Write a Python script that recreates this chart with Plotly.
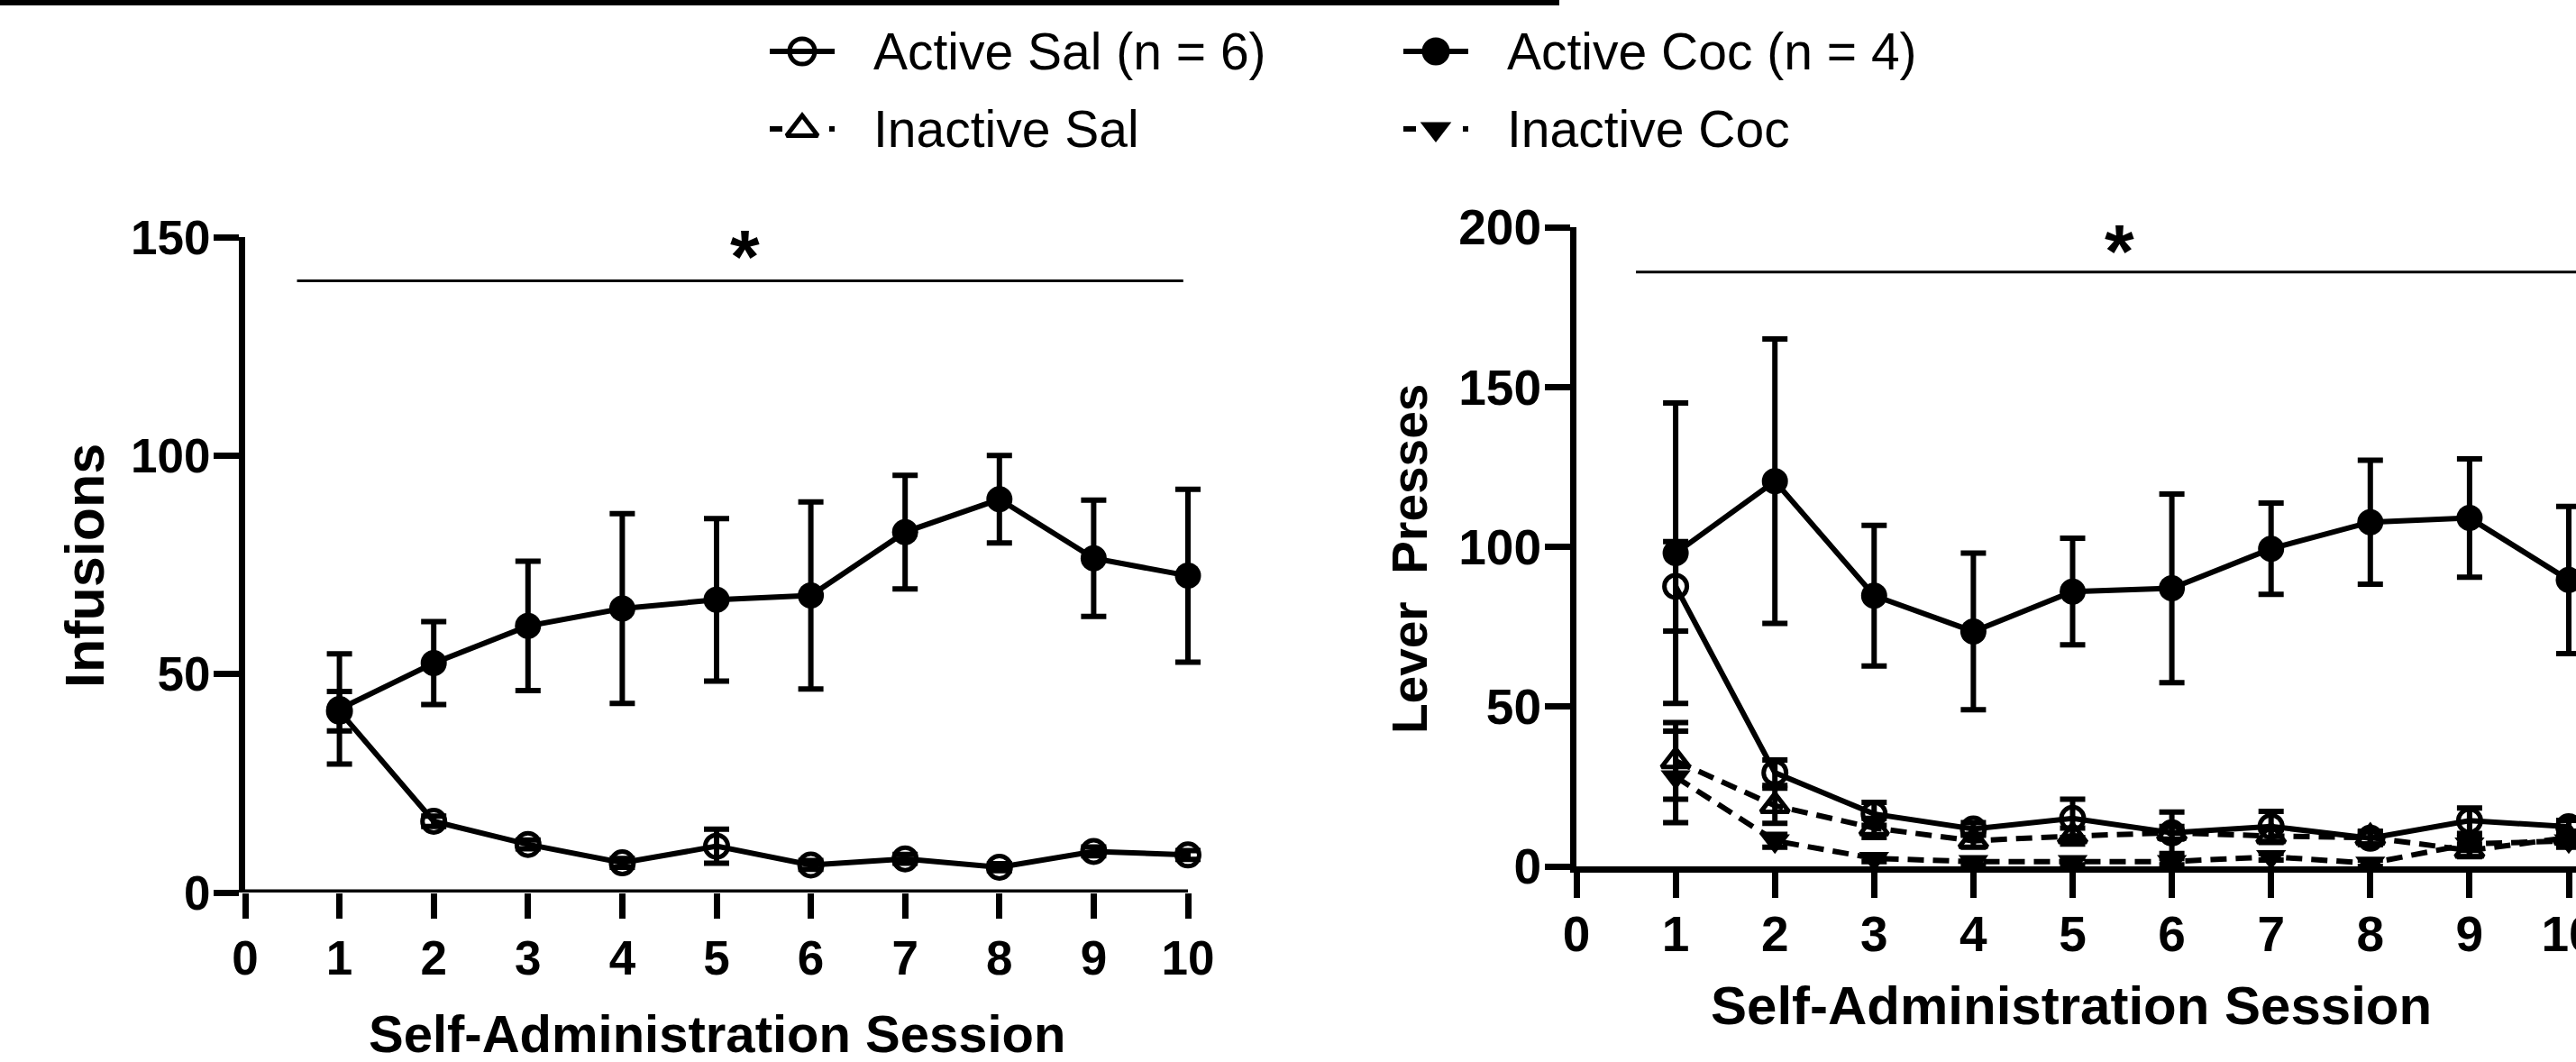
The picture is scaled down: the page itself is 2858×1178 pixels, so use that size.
import plotly.graph_objects as go

# ---------------- data ----------------
sessions = [1, 2, 3, 4, 5, 6, 7, 8, 9, 10]
x_tick_vals = [0, 1, 2, 3, 4, 5, 6, 7, 8, 9, 10]
inf_y_ticks = [0, 50, 100, 150]
lp_y_ticks = [0, 50, 100, 150, 200]

series_names = ["Active Sal (n = 6)", "Inactive Sal", "Active Coc (n = 4)", "Inactive Coc"]

# Panel A: infusions
inf_active_sal = [41.5, 16.3, 11.0, 6.8, 10.6, 6.3, 7.7, 5.8, 9.4, 8.6]
inf_active_sal_sem = [4.5, 1.2, 1.0, 1.0, 3.9, 1.0, 1.0, 0.8, 1.0, 1.0]
inf_active_coc = [42.0, 52.5, 61.0, 65.0, 67.0, 68.0, 82.5, 90.0, 76.5, 72.5]
inf_active_coc_sem = [12.6, 9.5, 14.8, 21.7, 18.6, 21.4, 13.0, 10.0, 13.3, 19.8]

# Panel B: lever presses
lp_active_sal = [87.6, 29.3, 16.4, 11.7, 15.0, 10.5, 12.5, 8.8, 14.3, 12.4]
lp_active_sal_sem = [14.0, 4.0, 3.6, 2.0, 6.0, 6.5, 4.7, 2.0, 4.0, 2.0]
lp_inactive_sal = [33.0, 19.0, 12.0, 8.0, 9.5, 10.5, 9.5, 9.0, 5.0, 9.0]
lp_inactive_sal_sem = [12.0, 5.5, 3.0, 2.0, 2.5, 2.0, 2.0, 2.0, 2.0, 2.0]
lp_active_coc = [98.0, 120.5, 84.7, 73.5, 86.0, 87.0, 99.4, 107.7, 109.0, 89.6]
lp_active_coc_sem = [47.0, 44.5, 22.0, 24.5, 16.7, 29.5, 14.3, 19.4, 18.5, 23.0]
lp_inactive_coc = [28.0, 8.0, 2.5, 1.5, 1.5, 1.5, 3.0, 1.0, 7.0, 8.0]
lp_inactive_coc_sem = [14.3, 2.0, 1.0, 1.0, 1.0, 1.0, 1.0, 1.0, 2.0, 2.0]

# ---------------- styling ----------------
W, H = 2858, 1178
FONT = "Liberation Sans, Arial, sans-serif"
BLACK = "black"
LW = 6
AXW = 7
DASH = "18px,10px"

STYLE = {
    "Active Sal (n = 6)": dict(symbol="circle-open", size=25, mlw=5, dash="solid", leg=28),
    "Inactive Sal": dict(symbol="triangle-up-open", size=27, mlw=5, dash=DASH, leg=30),
    "Active Coc (n = 4)": dict(symbol="circle", size=29, mlw=0, dash="solid", leg=31),
    "Inactive Coc": dict(symbol="triangle-down", size=29, mlw=0, dash=DASH, leg=30),
}


def px_x(p):
    return p / W


def px_y(p):
    return (H - p) / H


fig = go.Figure()


def add_series(name, y, sem, xa, ya):
    st = STYLE[name]
    fig.add_trace(go.Scatter(
        x=sessions, y=y, name=name, xaxis=xa, yaxis=ya,
        mode="lines+markers", cliponaxis=False, showlegend=False,
        line=dict(color=BLACK, width=LW, dash=st["dash"]),
        marker=dict(symbol=st["symbol"], size=st["size"], color=BLACK,
                    line=dict(color=BLACK, width=st["mlw"])),
        error_y=dict(type="data", array=sem, visible=True, color=BLACK,
                     thickness=6, width=14),
    ))


# left x-axis baseline drawn along y = 0 from first to last tick
fig.add_trace(go.Scatter(
    x=[x_tick_vals[0], x_tick_vals[-1]], y=[0, 0], xaxis="x", yaxis="y",
    mode="lines", cliponaxis=False, showlegend=False, hoverinfo="skip",
    line=dict(color=BLACK, width=AXW)))

# Panel A
add_series("Active Sal (n = 6)", inf_active_sal, inf_active_sal_sem, "x", "y")
add_series("Active Coc (n = 4)", inf_active_coc, inf_active_coc_sem, "x", "y")
# Panel B
add_series("Inactive Coc", lp_inactive_coc, lp_inactive_coc_sem, "x2", "y2")
add_series("Inactive Sal", lp_inactive_sal, lp_inactive_sal_sem, "x2", "y2")
add_series("Active Sal (n = 6)", lp_active_sal, lp_active_sal_sem, "x2", "y2")
add_series("Active Coc (n = 4)", lp_active_coc, lp_active_coc_sem, "x2", "y2")

# ---------------- custom legend (aux pixel axes) ----------------
LEG_LINE_X = {"Active Sal (n = 6)": 854, "Inactive Sal": 854,
              "Active Coc (n = 4)": 1557, "Inactive Coc": 1557}
LEG_ROW_Y = {"Active Sal (n = 6)": 57, "Inactive Sal": 143,
             "Active Coc (n = 4)": 57, "Inactive Coc": 143}
LEG_LEN = 72
LEG_TEXT_GAP = 113

annotations = []
for name in series_names:
    st = STYLE[name]
    x0 = LEG_LINE_X[name]
    yy = LEG_ROW_Y[name]
    dash = "solid" if st["dash"] == "solid" else "14px,52px,6px"
    fig.add_trace(go.Scatter(
        x=[x0, x0 + LEG_LEN], y=[yy, yy], xaxis="x3", yaxis="y3",
        mode="lines", cliponaxis=False, showlegend=False, hoverinfo="skip",
        line=dict(color=BLACK, width=LW, dash=dash)))
    fig.add_trace(go.Scatter(
        x=[x0 + LEG_LEN / 2], y=[yy], xaxis="x3", yaxis="y3",
        mode="markers", cliponaxis=False, showlegend=False, hoverinfo="skip",
        marker=dict(symbol=st["symbol"], size=st["leg"], color=BLACK,
                    line=dict(color=BLACK, width=st["mlw"]))))
    annotations.append(dict(
        x=x0 + LEG_TEXT_GAP, y=yy, xref="x3", yref="y3", text=name,
        showarrow=False, xanchor="left", yanchor="middle",
        font=dict(family=FONT, size=57, color=BLACK)))

# ---------------- axes ----------------
tickfont_a = dict(family=FONT, size=53, color=BLACK, weight="bold")
tickfont_b = dict(family=FONT, size=55, color=BLACK, weight="bold")
axis_common = dict(linecolor=BLACK, linewidth=AXW, ticks="outside",
                   ticklen=28, tickwidth=AXW, tickcolor=BLACK, showgrid=False,
                   zeroline=False, fixedrange=True, automargin=False)

A_X0, A_XU, A_XMAX = 272, 104.6, 10.25
A_Y0, A_Y150 = 990, 263
B_X0, B_XU = 1749, 110.1
B_Y0, B_Y200 = 961, 252

layout = dict(
    width=W, height=H, autosize=False, template="none",
    margin=dict(l=0, r=0, t=0, b=0, pad=0, autoexpand=False),
    paper_bgcolor="white", plot_bgcolor="rgba(0,0,0,0)",
    showlegend=False, hovermode=False,
    xaxis=dict(domain=[px_x(A_X0), px_x(A_X0 + A_XMAX * A_XU)], range=[0, A_XMAX],
               tickvals=x_tick_vals, anchor="y", showline=False, tickfont=tickfont_a,
               **axis_common),
    yaxis=dict(domain=[px_y(A_Y0), px_y(A_Y150)], range=[0, 150], tickvals=inf_y_ticks,
               anchor="x", showline=True, tickfont=tickfont_a, **axis_common),
    xaxis2=dict(domain=[px_x(B_X0), 1.0], range=[0, (W - B_X0) / B_XU], tickvals=x_tick_vals,
                anchor="y2", showline=True, tickfont=tickfont_b, ticklabeloverflow="allow",
                **axis_common),
    yaxis2=dict(domain=[px_y(B_Y0), px_y(B_Y200)], range=[0, 200], tickvals=lp_y_ticks,
                anchor="x2", showline=True, tickfont=tickfont_b, **axis_common),
    xaxis3=dict(domain=[0, 1], range=[0, W], visible=False, anchor="y3",
                fixedrange=True, automargin=False),
    yaxis3=dict(domain=[0, 1], range=[H, 0], visible=False, anchor="x3",
                fixedrange=True, automargin=False),
)
fig.update_layout(**layout)

try:
    fig.update_layout(yaxis_ticklabelstandoff=-7, yaxis2_ticklabelstandoff=-7,
                      xaxis_ticklabelstandoff=-2, xaxis2_ticklabelstandoff=-7)
except Exception:
    pass

title_font_a = dict(family=FONT, size=58, color=BLACK, weight="bold")
title_font_b = dict(family=FONT, size=60, color=BLACK, weight="bold")
ytitle_font_a = dict(family=FONT, size=61, color=BLACK, weight="bold")
ytitle_font_b = dict(family=FONT, size=55, color=BLACK, weight="bold")
star_font = dict(family=FONT, size=84, color=BLACK, weight="bold")

annotations += [
    dict(x=795, y=1146, xref="x3", yref="y3", text="Self-Administration Session",
         showarrow=False, xanchor="center", yanchor="middle", font=title_font_a),
    dict(x=2298, y=1115, xref="x3", yref="y3", text="Self-Administration Session",
         showarrow=False, xanchor="center", yanchor="middle", font=title_font_b),
    dict(x=94, y=628, xref="x3", yref="y3", text="Infusions", textangle=-90,
         showarrow=False, xanchor="center", yanchor="middle", font=ytitle_font_a),
    dict(x=1564, y=620, xref="x3", yref="y3", text="Lever\u00a0\u00a0Presses", textangle=-90,
         showarrow=False, xanchor="center", yanchor="middle", font=ytitle_font_b),
    dict(x=5.3, y=145.5, xref="x", yref="y", text="*", showarrow=False,
         xanchor="center", yanchor="middle", font=star_font),
    dict(x=5.47, y=192.5, xref="x2", yref="y2", text="*", showarrow=False,
         xanchor="center", yanchor="middle", font=star_font),
]

shapes = [
    dict(type="line", xref="x", yref="y", x0=0.55, x1=9.95, y0=140, y1=140,
         line=dict(color=BLACK, width=3)),
    dict(type="line", xref="x2", yref="y2", x0=0.6, x1=(W - B_X0) / B_XU, y0=186, y1=186,
         line=dict(color=BLACK, width=3)),
    dict(type="rect", xref="x3", yref="y3", x0=0, x1=1730, y0=0, y1=6,
         fillcolor=BLACK, line=dict(width=0)),
]

fig.update_layout(annotations=annotations, shapes=shapes)

fig.write_html("out.html", config={"displayModeBar": False},
               post_script="document.body.style.margin='0px';document.body.style.overflow='hidden';")
